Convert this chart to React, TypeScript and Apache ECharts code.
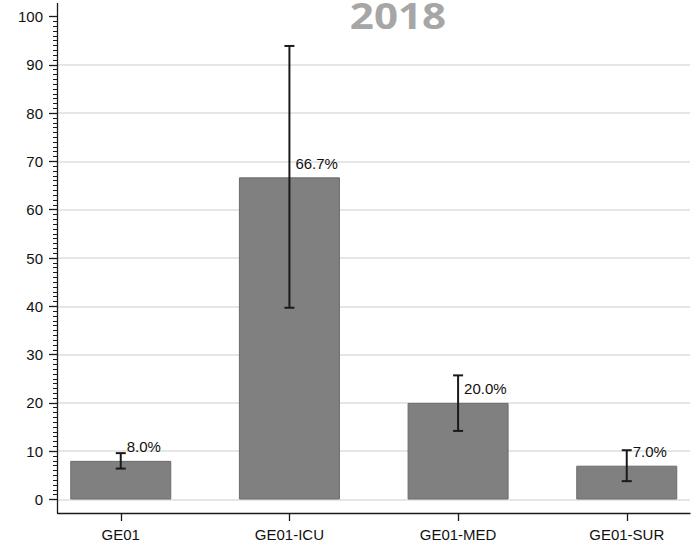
import React, { useEffect, useRef } from "react";
import * as echarts from "echarts";

// Proportions by unit, 2018, with confidence intervals
const categories = ["GE01", "GE01-ICU", "GE01-MED", "GE01-SUR"];
const percentages = [8.0, 66.7, 20.0, 7.0];
const lowerBounds = [6.4, 39.7, 14.2, 3.8];
const upperBounds = [9.6, 93.9, 25.7, 10.2];
const yTicks = [0, 10, 20, 30, 40, 50, 60, 70, 80, 90, 100];
const titleText = "2018";

const GRID_LEFT = 57.5;
const GRID_RIGHT = 6;
const GRID_TOP = 16.5;
const GRID_BOTTOM = 45.5;
const X_AXIS_OFFSET = 13.5;
const AXIS_COLOR = "#1a1a1a";

export default function App() {
  const ref = useRef<HTMLDivElement>(null);

  useEffect(() => {
    if (!ref.current) return;
    const chart = echarts.init(ref.current, null, { renderer: "svg" });
    const H = 545;
    const positions = categories.map((_, i) => i);

    chart.setOption({
      animation: false,
      backgroundColor: "#ffffff",
      textStyle: { fontFamily: "Liberation Sans, Arial, sans-serif" },
      grid: {
        left: GRID_LEFT,
        right: GRID_RIGHT,
        top: GRID_TOP,
        bottom: GRID_BOTTOM,
      },
      xAxis: {
        type: "value",
        min: -0.375,
        max: 3.375,
        offset: X_AXIS_OFFSET,
        axisLine: { show: true, onZero: false, lineStyle: { color: AXIS_COLOR, width: 1.3 } },
        axisTick: {
          show: true,
          length: 8,
          customValues: positions,
          lineStyle: { color: AXIS_COLOR, width: 1.3 },
        },
        axisLabel: {
          customValues: positions,
          margin: 14,
          fontSize: 15,
          color: "#111",
          formatter: (v: number) => categories[Math.round(v)] ?? "",
        },
        splitLine: { show: false },
      },
      yAxis: {
        type: "value",
        min: 0,
        max: 100,
        interval: 10,
        axisLine: { show: false, onZero: false },
        axisTick: {
          show: true,
          length: 8.5,
          customValues: yTicks,
          lineStyle: { color: AXIS_COLOR, width: 1.3 },
        },
        minorTick: {
          show: true,
          splitNumber: 10,
          length: 4.5,
          lineStyle: { color: AXIS_COLOR, width: 1 },
        },
        axisLabel: {
          customValues: yTicks,
          margin: 14.5,
          fontSize: 15,
          color: "#111",
        },
        splitLine: {
          show: true,
          showMaxLine: false,
          lineStyle: { color: "#e6e6e6", width: 2 },
        },
      },
      graphic: [
        {
          type: "line",
          shape: { x1: GRID_LEFT, y1: 3, x2: GRID_LEFT, y2: H - GRID_BOTTOM + X_AXIS_OFFSET },
          style: { stroke: AXIS_COLOR, lineWidth: 1.3 },
          z: 10,
        },
        {
          type: "text",
          x: 398,
          y: 15,
          scaleX: 1.17,
          style: {
            text: titleText,
            fill: "#a6a6a6",
            font: "bold 36px 'Open Sans', sans-serif",
            lineHeight: 28,
            textAlign: "center",
            textVerticalAlign: "middle",
          },
          z: 10,
        },
      ],
      series: [
        {
          type: "bar",
          barWidth: 101,
          data: percentages.map((v, i) => [i, v]),
          itemStyle: { color: "#808080", borderColor: "#6b6b6b", borderWidth: 1 },
          label: {
            show: true,
            position: "top",
            distance: 14,
            align: "left",
            verticalAlign: "middle",
            offset: [6, 0],
            fontSize: 15,
            color: "#111",
            formatter: (p: any) => p.value[1].toFixed(1) + "%",
          },
          z: 2,
        },
        {
          type: "custom",
          data: positions.map((i) => [i, lowerBounds[i], upperBounds[i]]),
          z: 5,
          renderItem: (_params: any, api: any) => {
            const x = api.value(0);
            const lo = api.coord([x, api.value(1)]);
            const hi = api.coord([x, api.value(2)]);
            const half = 5;
            const style = { stroke: AXIS_COLOR, lineWidth: 2 };
            return {
              type: "group",
              children: [
                { type: "line", shape: { x1: lo[0], y1: lo[1], x2: hi[0], y2: hi[1] }, style },
                { type: "line", shape: { x1: hi[0] - half, y1: hi[1], x2: hi[0] + half, y2: hi[1] }, style },
                { type: "line", shape: { x1: lo[0] - half, y1: lo[1], x2: lo[0] + half, y2: lo[1] }, style },
              ],
            };
          },
        },
      ],
    });

    return () => chart.dispose();
  }, []);

  return (
    <div
      ref={ref}
      style={{ position: "absolute", left: 0, top: 0, width: 696, height: 545 }}
    />
  );
}
